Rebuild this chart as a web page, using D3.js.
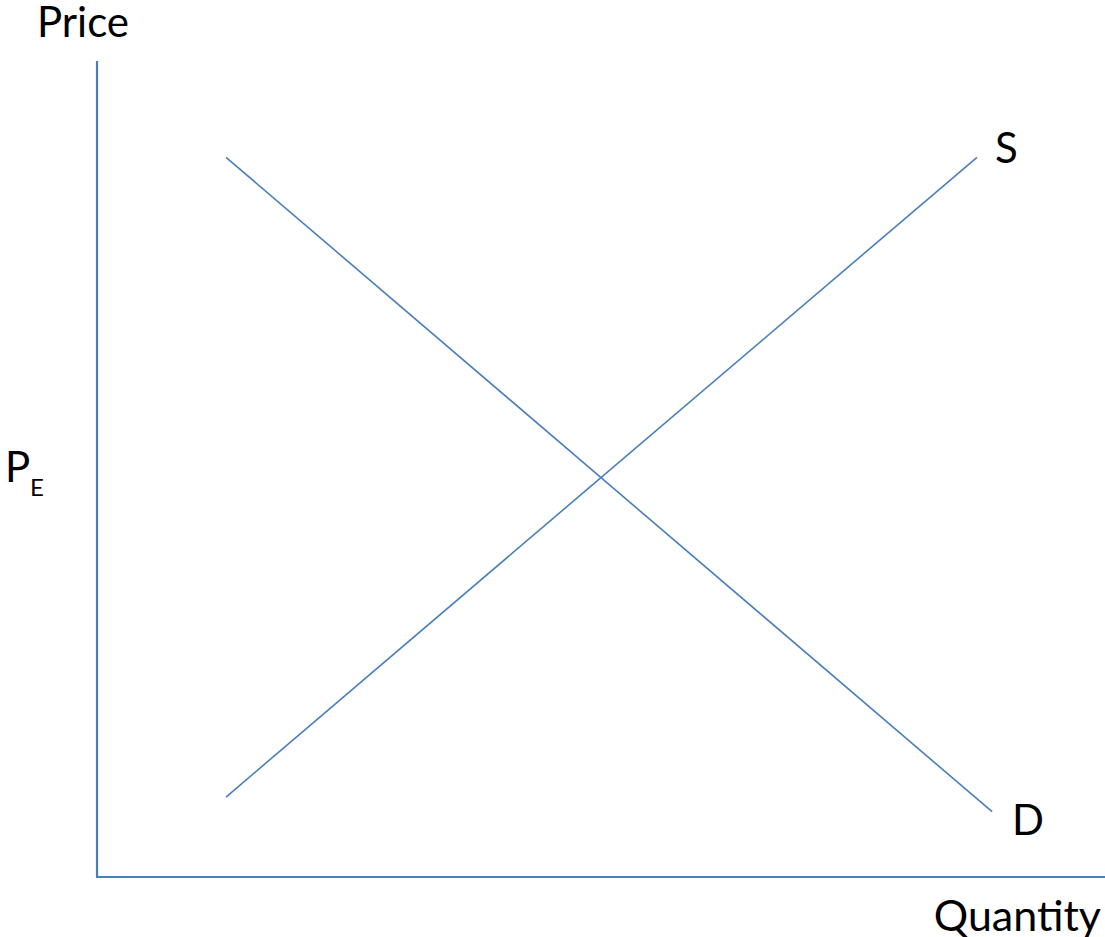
<!DOCTYPE html>
<html>
<head>
<meta charset="utf-8">
<script src="https://cdn.jsdelivr.net/npm/d3@7"></script>
<style>
  body { margin: 0; background: #fff; }
  text { font-family: Lato, "Open Sans", sans-serif; fill: #000; }
</style>
</head>
<body id="body">
<svg></svg>
<script>
var width = 1105;
var height = 937;

// curve end points (quantity, price) on a 0-100 scale
var demand = [{q: 12.8, p: 88.2}, {q: 88.8, p: 8.0}];
var supply = [{q: 12.8, p: 9.8}, {q: 87.3, p: 88.2}];
var curveLabels = ["S", "D"];
var axisLabels = ["Price", "Quantity"];

var lineColor = "#4a7ebb";

var svg = d3.select("svg")
  .attr("width", width)
  .attr("height", height);

var x = d3.scaleLinear()
  .domain([0, 100])
  .range([97, 1105]);

var y = d3.scaleLinear()
  .domain([0, 100])
  .range([877, 61]);

// axes
svg.append("line")
  .attr("x1", x(0)).attr("y1", y(0))
  .attr("x2", x(0)).attr("y2", y(100))
  .attr("stroke", lineColor)
  .attr("stroke-width", 2.2);

svg.append("line")
  .attr("x1", x(0) - 1).attr("y1", y(0))
  .attr("x2", x(100)).attr("y2", y(0))
  .attr("stroke", lineColor)
  .attr("stroke-width", 2.2);

var line = d3.line()
  .x(function (d) { return x(d.q); })
  .y(function (d) { return y(d.p); });

svg.selectAll("path.curve")
  .data([demand, supply])
  .enter().append("path")
  .attr("class", "curve")
  .attr("d", line)
  .attr("fill", "none")
  .attr("stroke", lineColor)
  .attr("stroke-width", 1.6);

// labels
svg.append("text")
  .attr("x", 37).attr("y", 37)
  .attr("font-size", 42)
  .text(axisLabels[0]);

svg.append("text")
  .attr("x", 1101).attr("y", 931)
  .attr("text-anchor", "end")
  .attr("font-size", 43)
  .text(axisLabels[1]);

svg.append("text")
  .attr("x", 995).attr("y", 163)
  .attr("font-size", 42)
  .text(curveLabels[0]);

svg.append("text")
  .attr("x", 1012).attr("y", 835)
  .attr("font-size", 42)
  .text(curveLabels[1]);

// P with subscript E
svg.append("text")
  .attr("x", 5).attr("y", 482)
  .attr("font-size", 42)
  .text("P");
svg.append("text")
  .attr("x", 30).attr("y", 496)
  .style("font-size", "24px")
  .text("E");
</script>
</body>
</html>
